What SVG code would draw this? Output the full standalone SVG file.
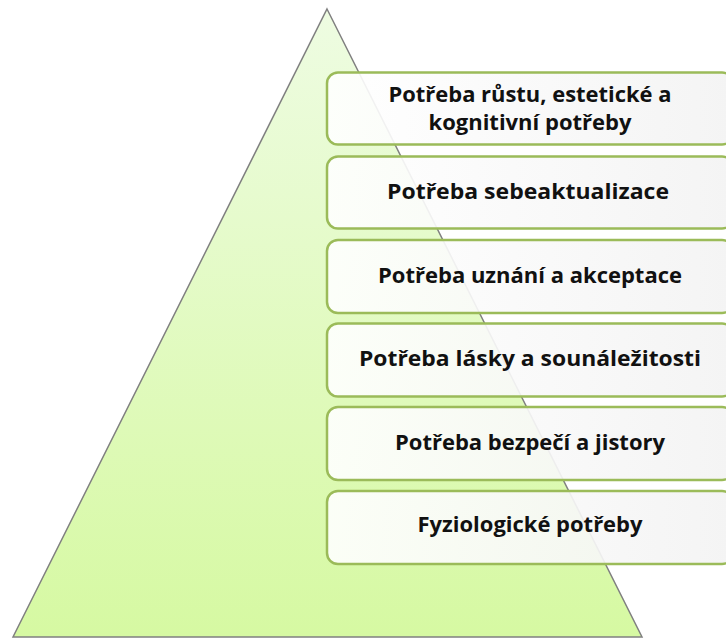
<svg xmlns="http://www.w3.org/2000/svg" width="726" height="638" viewBox="0 0 726 638">
<defs>
<linearGradient id="tri" x1="0" y1="0" x2="0" y2="1">
<stop offset="0" stop-color="#eefce2"/>
<stop offset="1" stop-color="#d6f9a2"/>
</linearGradient>
<linearGradient id="box" x1="0" y1="0" x2="1" y2="0">
<stop offset="0" stop-color="#ffffff" stop-opacity="0.9"/>
<stop offset="1" stop-color="#f3f3f3" stop-opacity="0.92"/>
</linearGradient>
<style>
.b{fill:url(#box);stroke:#9bbb59;stroke-width:2.5}
.t{font-family:"Open Sans","Liberation Sans",Arial,sans-serif;font-weight:bold;font-size:21px;fill:#111;text-anchor:middle}
</style>
</defs>
<rect width="726" height="638" fill="#fff"/>
<g id="pyramid"><polygon points="327,9 642,637 13,637" fill="url(#tri)" stroke="#808080" stroke-width="1.5"/></g>
<g id="n1"><rect class="b" x="327" y="72.5" width="406" height="72" rx="11"/><text class="t" x="530" y="102" textLength="283" lengthAdjust="spacingAndGlyphs">Potřeba růstu, estetické a</text><text class="t" x="530" y="130" textLength="203" lengthAdjust="spacingAndGlyphs">kognitivní potřeby</text></g>
<g id="n2"><rect class="b" x="327" y="156.5" width="406" height="72" rx="11"/><text class="t" x="528" y="199" textLength="282" lengthAdjust="spacingAndGlyphs">Potřeba sebeaktualizace</text></g>
<g id="n3"><rect class="b" x="327" y="240" width="406" height="73" rx="11"/><text class="t" x="530" y="283" textLength="304" lengthAdjust="spacingAndGlyphs">Potřeba uznání a akceptace</text></g>
<g id="n4"><rect class="b" x="327" y="323.5" width="406" height="73" rx="11"/><text class="t" x="530" y="366" textLength="342" lengthAdjust="spacingAndGlyphs">Potřeba lásky a sounáležitosti</text></g>
<g id="n5"><rect class="b" x="327" y="407" width="406" height="73" rx="11"/><text class="t" x="530" y="450" textLength="270" lengthAdjust="spacingAndGlyphs">Potřeba bezpečí a jistory</text></g>
<g id="n6"><rect class="b" x="327" y="491" width="406" height="73" rx="11"/><text class="t" x="530" y="532" textLength="225" lengthAdjust="spacingAndGlyphs">Fyziologické potřeby</text></g>
<g id="connectors"/>
</svg>
